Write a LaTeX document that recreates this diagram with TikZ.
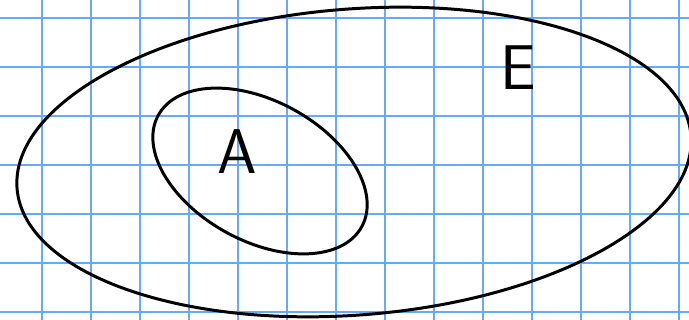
\documentclass[tikz,border=0pt]{standalone}
\usepackage{xcolor}
\usetikzlibrary{positioning}
\definecolor{gridblue}{RGB}{102,170,255}

\begin{document}
\begin{tikzpicture}[x=0.02cm, y=-0.02cm, every node/.style={font=\sffamily\fontsize{36}{40}\selectfont}]
  \def\w{689}
  \def\h{320}
  \useasboundingbox (0,0) rectangle (\w,\h);
  \begin{scope}
    \clip (0,0) rectangle (\w,\h);
    \foreach \x in {42,91,...,679}
      \draw[gridblue, line width=1.1pt] (\x,0) -- (\x,\h);
    \foreach \y in {18,67,...,312}
      \draw[gridblue, line width=1.1pt] (0,\y) -- (\w,\y);
    \draw[line width=1.7pt, rotate around={4.5:(354,162)}]
      (354,162) ellipse [x radius=338, y radius=153];
  \end{scope}
  \draw[line width=1.7pt, rotate around={-28.7:(260,171)}]
    (260,171) ellipse [x radius=116, y radius=70];
  \node (setA) at (237,152) {A};
  \node (setE) at (518,68) {E};
\end{tikzpicture}
\end{document}
